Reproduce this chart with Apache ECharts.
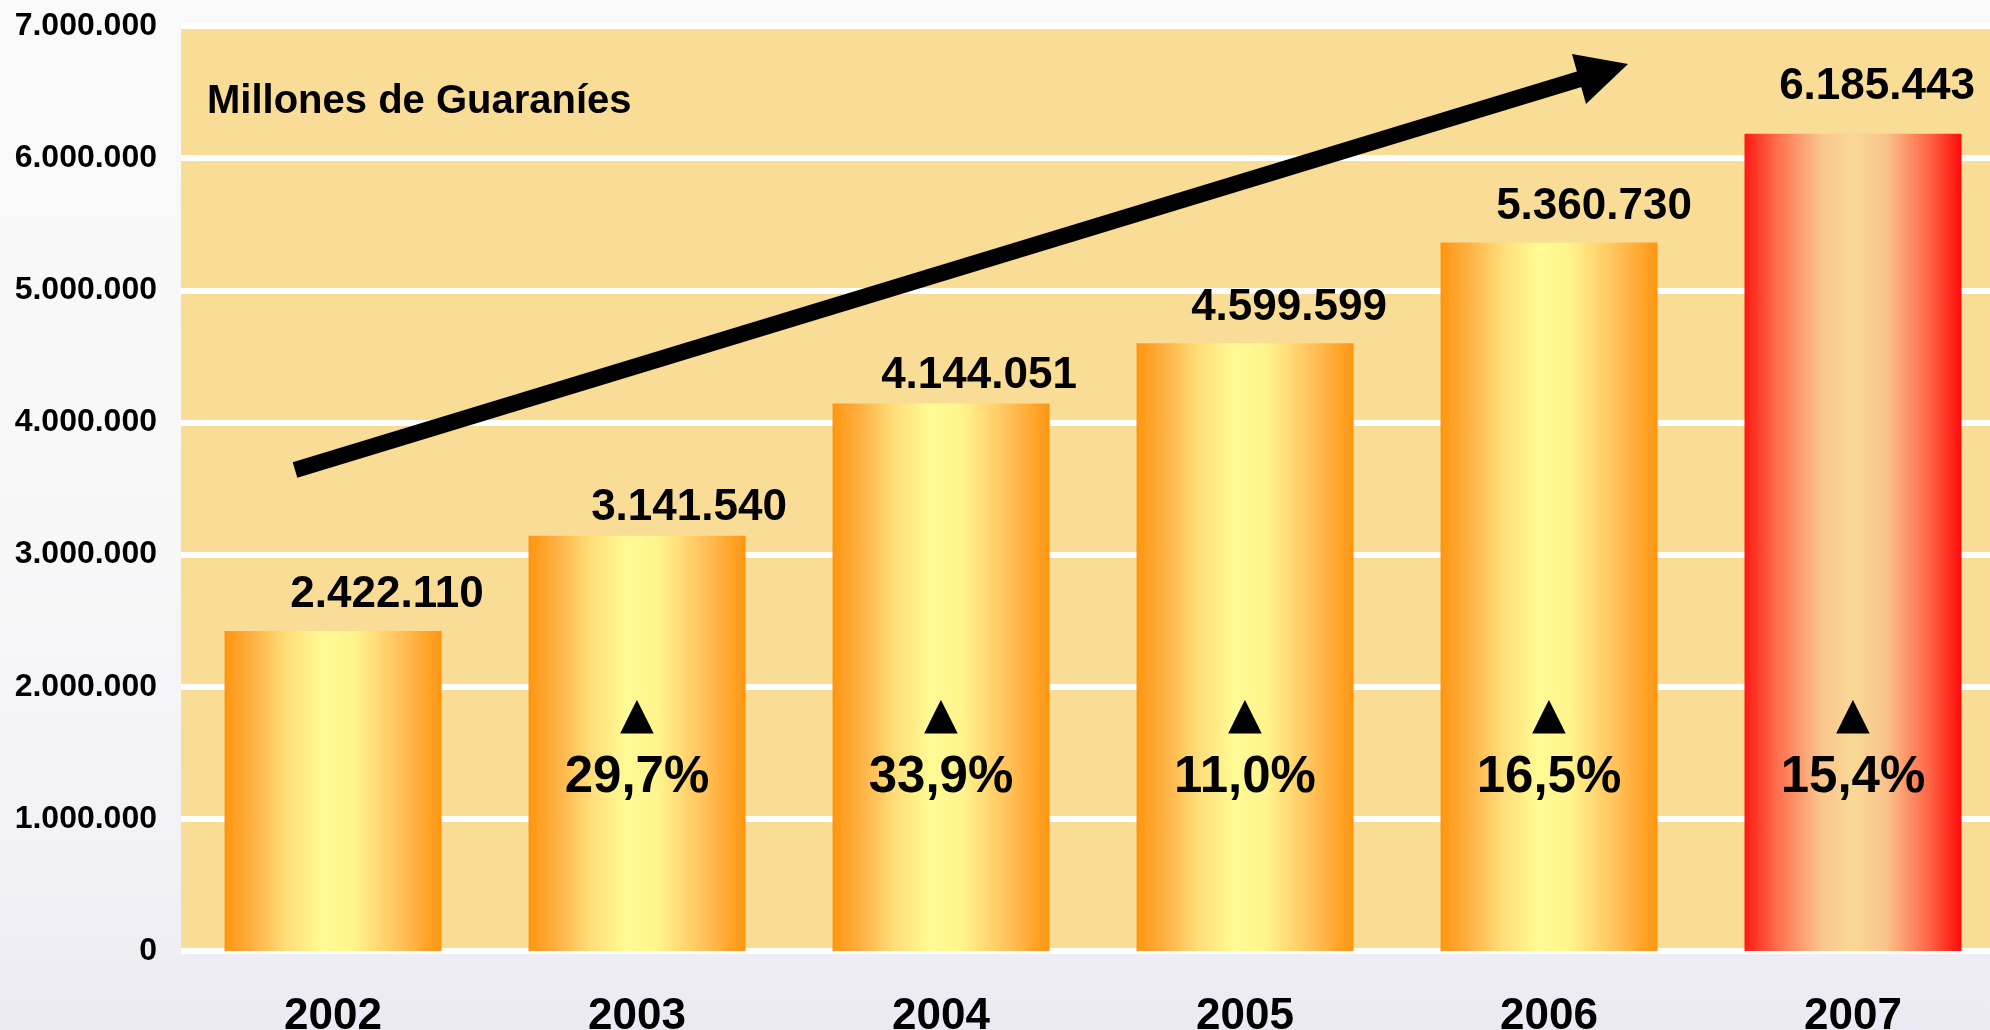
<!DOCTYPE html>
<html>
<head>
<meta charset="utf-8">
<script src="https://cdn.jsdelivr.net/npm/echarts@6/dist/echarts.min.js"></script>
<style>
html,body{margin:0;padding:0;}
body{width:1990px;height:1030px;overflow:hidden;
background: linear-gradient(180deg,#f9f9fa 0%,#f7f7f8 55%,#f1f1f6 85%,#ebeaf3 100%);}
#chart{width:1990px;height:1030px;}
</style>
</head>
<body>
<div id="chart"></div>
<script>
const years = ['2002','2003','2004','2005','2006','2007'];
const values = [2422110, 3141540, 4144051, 4599599, 5360730, 6185443];
const growth = ['', '29,7%', '33,9%', '11,0%', '16,5%', '15,4%'];
const unitTitle = 'Millones de Guaraníes';
const yMax = 7000000;
const yStep = 1000000;

// label placement tweaks (styling, not data)
const labelShift = [[54,-14],[52,-6],[38,-6],[44,-13],[45,-14],[24,-25]];

const FONT = '"Liberation Sans", Arial, Helvetica, sans-serif';

function fmt(n){ return String(n).replace(/\B(?=(\d{3})+(?!\d))/g,'.'); }

const orangeGrad = new echarts.graphic.LinearGradient(0,0,1,0,[
  {offset:0,color:'#FF9510'},
  {offset:0.12,color:'#FFAE40'},
  {offset:0.28,color:'#FFDC78'},
  {offset:0.45,color:'#FFFB95'},
  {offset:0.6,color:'#FFF38D'},
  {offset:0.8,color:'#FFC45E'},
  {offset:1,color:'#FF9510'}
]);
const redGrad = new echarts.graphic.LinearGradient(0,0,1,0,[
  {offset:0,color:'#FF1A12'},
  {offset:0.15,color:'#FF6E4E'},
  {offset:0.35,color:'#F9C48C'},
  {offset:0.5,color:'#F9D996'},
  {offset:0.65,color:'#F9C48C'},
  {offset:0.85,color:'#FF6646'},
  {offset:1,color:'#FF0A0A'}
]);

const barData = values.map((v,i)=>({
  value: v,
  itemStyle: {color: i === values.length-1 ? redGrad : orangeGrad},
  label: {offset: labelShift[i]}
}));

const chart = echarts.init(document.getElementById('chart'), null, {renderer:'canvas'});
chart.setOption({
  animation:false,
  backgroundColor:'transparent',
  grid:{left:181,width:1824,top:26,bottom:79,show:true,backgroundColor:'#F9DC96',borderWidth:0,
    containLabel:false,outerBoundsMode:'none'},
  xAxis:{
    type:'category', data:years,
    axisLine:{show:false}, axisTick:{show:false},
    axisLabel:{fontFamily:FONT,fontWeight:'bold',fontSize:44,color:'#000',margin:44}
  },
  yAxis:{
    type:'value', min:0, max:yMax, interval:yStep,
    axisLine:{show:false}, axisTick:{show:false},
    splitLine:{show:true,lineStyle:{color:'#ffffff',width:6}},
    axisLabel:{fontFamily:FONT,fontWeight:'bold',fontSize:32,color:'#000',margin:24,formatter:v=>fmt(v)}
  },
  series:[
    {
      type:'bar', data:barData, barWidth:217, z:3,
      label:{show:true,position:'top',distance:0,fontFamily:FONT,fontWeight:'bold',fontSize:44,lineHeight:44,color:'#000',
        formatter:p=>fmt(p.value)}
    },
    {
      type:'bar', data:values, barWidth:217, barGap:'-100%', z:4,
      itemStyle:{color:'rgba(0,0,0,0)'},
      label:{show:true,position:'insideBottom',distance:143,color:'#000',
        formatter:p=> growth[p.dataIndex] ? '{tri|▲}\n{pct|'+growth[p.dataIndex]+'}' : '',
        rich:{
          tri:{fontFamily:'"DejaVu Sans"',fontSize:44,lineHeight:62,color:'#000',align:'center'},
          pct:{fontFamily:FONT,fontWeight:'bold',fontSize:51,lineHeight:60,color:'#000',align:'center'}
        }
      }
    }
  ],
  graphic:[
    {type:'text',left:207,top:82,z:10,
      style:{text:unitTitle,fontFamily:FONT,fontWeight:'bold',fontSize:40,fill:'#000'}},
    {type:'polyline',z:10,shape:{points:[[295,470],[1580,79]]},
      style:{stroke:'#000',lineWidth:16,lineCap:'butt',fill:null}},
    {type:'polygon',z:10,shape:{points:[[1628,64],[1572,54],[1586,104]]},
      style:{fill:'#000'}}
  ]
});
</script>
</body>
</html>
